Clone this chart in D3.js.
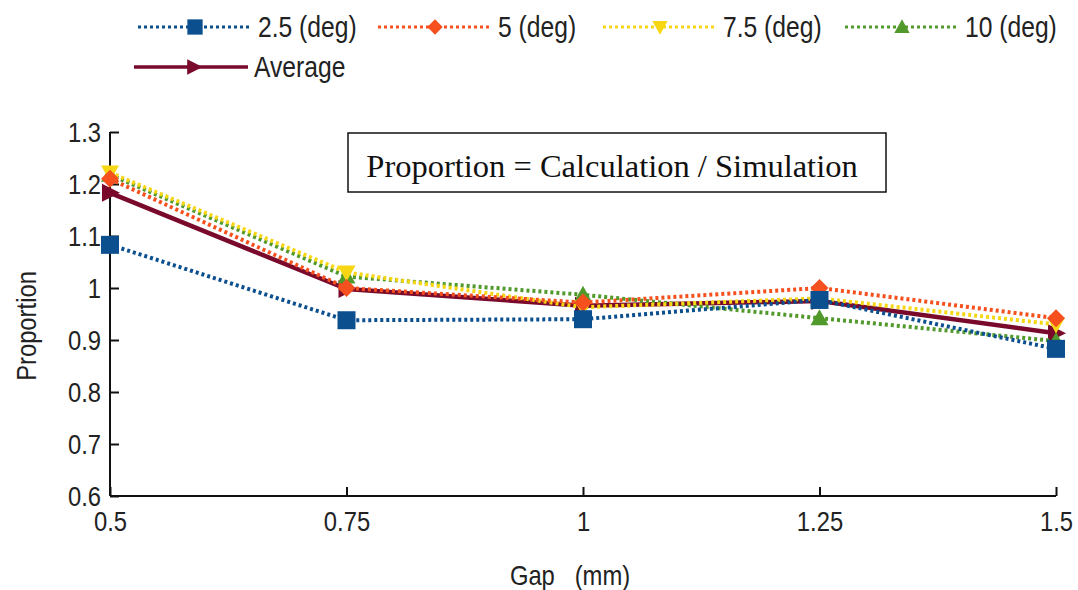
<!DOCTYPE html>
<html>
<head>
<meta charset="utf-8">
<script src="https://cdn.jsdelivr.net/npm/d3@7"></script>
<style>
  body { margin: 0; background: #fff; }
  svg { display: block; }
</style>
</head>
<body>
<svg id="chart" width="1078" height="590"></svg>
<script>
// Gap sizes (mm) on the x axis
const gaps = [0.5, 0.75, 1, 1.25, 1.5];

// Proportion = Calculation / Simulation for each angle
const deg25 = [1.083, 0.938, 0.940, 0.977, 0.883];
const deg5 = [1.210, 1.000, 0.972, 1.000, 0.942];
const deg75 = [1.222, 1.030, 0.963, 0.980, 0.930];
const deg10 = [1.218, 1.022, 0.987, 0.942, 0.898];
const average = [1.183, 0.998, 0.966, 0.975, 0.913];

const seriesNames = ["2.5 (deg)", "5 (deg)", "7.5 (deg)", "10 (deg)", "Average"];
const xTicks = [0.5, 0.75, 1, 1.25, 1.5];
const yTicks = [0.6, 0.7, 0.8, 0.9, 1, 1.1, 1.2, 1.3];

const series = [
  { name: seriesNames[0], values: deg25, color: "#0b4f8f", dotted: true, marker: "square" },
  { name: seriesNames[1], values: deg5, color: "#f5501e", dotted: true, marker: "diamond" },
  { name: seriesNames[2], values: deg75, color: "#f7d614", dotted: true, marker: "triDown" },
  { name: seriesNames[3], values: deg10, color: "#52992c", dotted: true, marker: "triUp" },
  { name: seriesNames[4], values: average, color: "#790a2c", dotted: false, marker: "triRight" }
];

const svg = d3.select("#chart");
const plot = { left: 110, right: 1056, top: 132, bottom: 496 };

const x = d3.scaleLinear().domain([0.5, 1.5]).range([plot.left, plot.right]);
const y = d3.scaleLinear().domain([0.6, 1.3]).range([plot.bottom, plot.top]);

const labelFont = "'Liberation Sans', Arial, sans-serif";
const SQUEEZE = 0.85; // narrow sans look for labels

// Compress text horizontally around its own x position
function narrow(sel) {
  sel.each(function () {
    const t = d3.select(this);
    const x0 = +(t.attr("x") || 0);
    const prev = t.attr("transform") || "";
    t.attr("x", x0 / SQUEEZE).attr("transform", `${prev} scale(${SQUEEZE},1)`);
  });
}

// Axes: ticks point into the plot area
const xAxis = svg.append("g")
  .attr("transform", `translate(0,${plot.bottom})`)
  .call(d3.axisBottom(x).tickValues(xTicks).tickSize(-9).tickPadding(15)
    .tickFormat(d => String(d)));
const yAxis = svg.append("g")
  .attr("transform", `translate(${plot.left},0)`)
  .call(d3.axisLeft(y).tickValues(yTicks).tickSize(-9).tickPadding(9)
    .tickFormat(d => String(d)));

[xAxis, yAxis].forEach(ax => {
  ax.select(".domain").attr("stroke", "#111").attr("stroke-width", 2);
  ax.selectAll(".tick line").attr("stroke", "#111").attr("stroke-width", 2);
  ax.selectAll(".tick text")
    .attr("fill", "#222")
    .style("font-family", labelFont)
    .style("font-size", "28px")
    .call(narrow);
});
xAxis.select(".domain").attr("d", `M${plot.left},0H${plot.right}`);
yAxis.select(".domain").attr("d", `M0,${plot.bottom}V${plot.top}`);
yAxis.selectAll(".tick text").attr("dy", "0.35em");

// Axis titles
svg.append("text")
  .attr("transform", "translate(570,585)")
  .attr("text-anchor", "middle")
  .style("font-family", labelFont).style("font-size", "28px").attr("fill", "#222")
  .attr("xml:space", "preserve")
  .text("Gap   (mm)")
  .call(narrow);
svg.append("text")
  .attr("transform", `translate(36,326) rotate(-90)`)
  .attr("text-anchor", "middle")
  .style("font-family", labelFont).style("font-size", "28px").attr("fill", "#222")
  .text("Proportion")
  .call(narrow);

// Marker shapes
function markerPath(type) {
  switch (type) {
    case "square": return "M-9,-9H9V9H-9Z";
    case "diamond": return "M0,-9L9,0L0,9L-9,0Z";
    case "triDown": return "M-9,-7H9L0,9Z";
    case "triUp": return "M-9,7H9L0,-9Z";
    case "triRight": return "M-8,-9L10,0L-8,9Z";
  }
}

const line = d3.line().x((d, i) => x(gaps[i])).y(d => y(d));

// Draw in reverse so the 2.5° series sits on top
const drawOrder = series.slice().reverse();
drawOrder.forEach(s => {
  const g = svg.append("g");
  g.append("path")
    .attr("d", line(s.values))
    .attr("fill", "none")
    .attr("stroke", s.color)
    .attr("stroke-width", s.dotted ? 4 : 4.5)
    .attr("stroke-dasharray", s.dotted ? "3,3" : null)
    .attr("stroke-linejoin", "round");
  g.selectAll("path.m")
    .data(s.values)
    .join("path")
    .attr("class", "m")
    .attr("transform", (d, i) => `translate(${x(gaps[i])},${y(d)})`)
    .attr("d", markerPath(s.marker))
    .attr("fill", s.color);
});

// Annotation box
const box = svg.append("g");
box.append("rect")
  .attr("x", 348).attr("y", 133).attr("width", 538).attr("height", 59)
  .attr("fill", "#fff").attr("stroke", "#111").attr("stroke-width", 1.5);
box.append("text")
  .attr("x", 612).attr("y", 177)
  .attr("text-anchor", "middle")
  .style("font-family", "'Liberation Serif', 'DejaVu Serif', serif")
  .style("font-size", "32.5px").attr("fill", "#111")
  .text("Proportion = Calculation / Simulation");

// Legend
const legendPos = [
  { x: 138, y: 27 }, { x: 378, y: 27 }, { x: 603, y: 27 }, { x: 845, y: 27 }, { x: 134, y: 67 }
];
series.forEach((s, i) => {
  const p = legendPos[i];
  const g = svg.append("g").attr("transform", `translate(${p.x},${p.y})`);
  g.append("line")
    .attr("x1", 0).attr("x2", 114).attr("y1", 0).attr("y2", 0)
    .attr("stroke", s.color)
    .attr("stroke-width", s.dotted ? 3 : 3.5)
    .attr("stroke-dasharray", s.dotted ? "3,3" : null);
  g.append("path")
    .attr("transform", `translate(${s.dotted ? 57 : 60},0) scale(0.85)`)
    .attr("d", markerPath(s.marker))
    .attr("fill", s.color);
  g.append("text")
    .attr("x", 120).attr("y", 0).attr("dy", "0.35em")
    .style("font-family", labelFont).style("font-size", "29px").attr("fill", "#222")
    .text(s.name)
    .call(narrow);
});
</script>
</body>
</html>
